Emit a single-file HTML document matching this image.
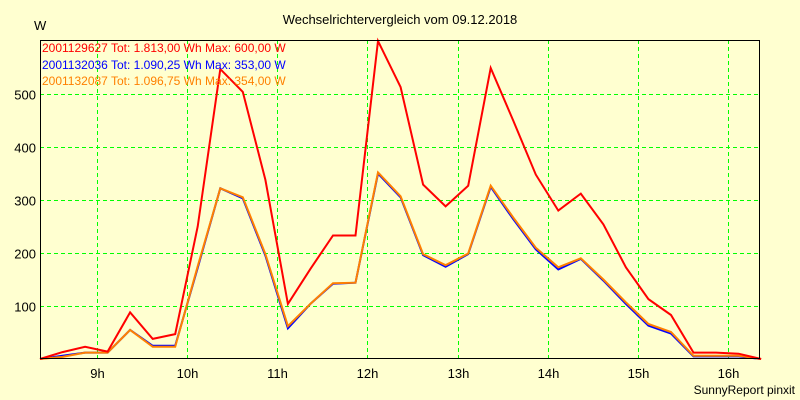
<!DOCTYPE html>
<html><head><meta charset="utf-8"><style>
body{margin:0;background:#ffffd0;}
svg{display:block;font-family:"Liberation Sans",sans-serif;}
</style></head><body>
<svg id="chart" width="800" height="400">
<rect x="0" y="0" width="800" height="400" fill="#ffffd0"/>
<text x="400" y="24" font-size="13" text-anchor="middle" fill="#000">Wechselrichtervergleich vom 09.12.2018</text>
<text x="34" y="30" font-size="13" fill="#000">W</text>
<text x="795" y="394" font-size="12" text-anchor="end" fill="#000">SunnyReport pinxit</text>
<g id="grid" shape-rendering="crispEdges"></g>
<g id="series"></g>
<rect x="40.5" y="40.5" width="719" height="318" fill="none" stroke="#000" stroke-width="1" shape-rendering="crispEdges"/>
<g id="legend" font-size="12">
<text x="42" y="52" fill="#ff0000">2001129627 Tot: 1.813,00 Wh Max: 600,00 W</text>
<text x="42" y="69" fill="#0000ff">2001132036 Tot: 1.090,25 Wh Max: 353,00 W</text>
<text x="42" y="85" fill="#ff8000">2001132087 Tot: 1.096,75 Wh Max: 354,00 W</text>
</g>
</svg>
<script>
const startHour = 8.367;
const stepHours = 0.25;
const seriesRed = [0,13,23,14,88,38,47,250,547,504,338,104,170,233,233,600,513,329,288,327,549,450,348,280,312,254,173,113,83,12,12,10,0];
const seriesBlue = [0,6,12,12,55,25,25,172,322,303,195,58,104,142,144,350,305,196,174,198,325,264,207,169,189,148,104,63,48,5,5,5,0];
const seriesOrange = [0,4,12,12,55,23,23,175,322,305,198,62,104,143,144,352,307,198,177,199,327,267,210,173,190,150,107,66,51,6,6,6,0];
const yTicks = [100,200,300,400,500];
const xTickHours = [9,10,11,12,13,14,15,16];
const xTickLabels = ["9h","10h","11h","12h","13h","14h","15h","16h"];

const NS = "http://www.w3.org/2000/svg";
function xScale(h){ return 40 + (h - startHour) * 90.14; }
function yScale(v){ return 359 - v * 0.53; }
const grid = document.getElementById('grid');
yTicks.forEach(v=>{
  const y = Math.round(yScale(v)) + 0.5;
  const l = document.createElementNS(NS,'line');
  l.setAttribute('x1',40); l.setAttribute('x2',760); l.setAttribute('y1',y); l.setAttribute('y2',y);
  l.setAttribute('stroke','#00ff00'); l.setAttribute('stroke-dasharray','4,3');
  
  
  grid.appendChild(l);
  const t = document.createElementNS(NS,'text');
  t.setAttribute('x',36); t.setAttribute('y',y+5); t.setAttribute('font-size','13'); t.setAttribute('text-anchor','end');
  t.textContent = v;
  
  
  grid.appendChild(t);
});
xTickHours.forEach((h,i)=>{
  const x = Math.round(xScale(h)) + 0.5;
  const l = document.createElementNS(NS,'line');
  l.setAttribute('x1',x); l.setAttribute('x2',x); l.setAttribute('y1',40); l.setAttribute('y2',359);
  l.setAttribute('stroke','#00ff00'); l.setAttribute('stroke-dasharray','4,3');
  
  
  grid.appendChild(l);
  const t = document.createElementNS(NS,'text');
  t.setAttribute('x',x); t.setAttribute('y',378); t.setAttribute('font-size','13'); t.setAttribute('text-anchor','middle');
  t.textContent = xTickLabels[i];
  
  
  grid.appendChild(t);
});
const sg = document.getElementById('series');
[[seriesBlue,'#0000ff','series-2001132036'],[seriesOrange,'#ff8000','series-2001132087'],[seriesRed,'#ff0000','series-2001129627']].forEach(([d,c,n])=>{
  const p = document.createElementNS(NS,'polyline');
  p.setAttribute('points', d.map((v,i)=>xScale(startHour+i*stepHours).toFixed(1)+','+yScale(v).toFixed(1)).join(' '));
  p.setAttribute('fill','none'); p.setAttribute('stroke',c); p.setAttribute('stroke-width','2');
  
  
  sg.appendChild(p);
});
</script>
</body></html>
